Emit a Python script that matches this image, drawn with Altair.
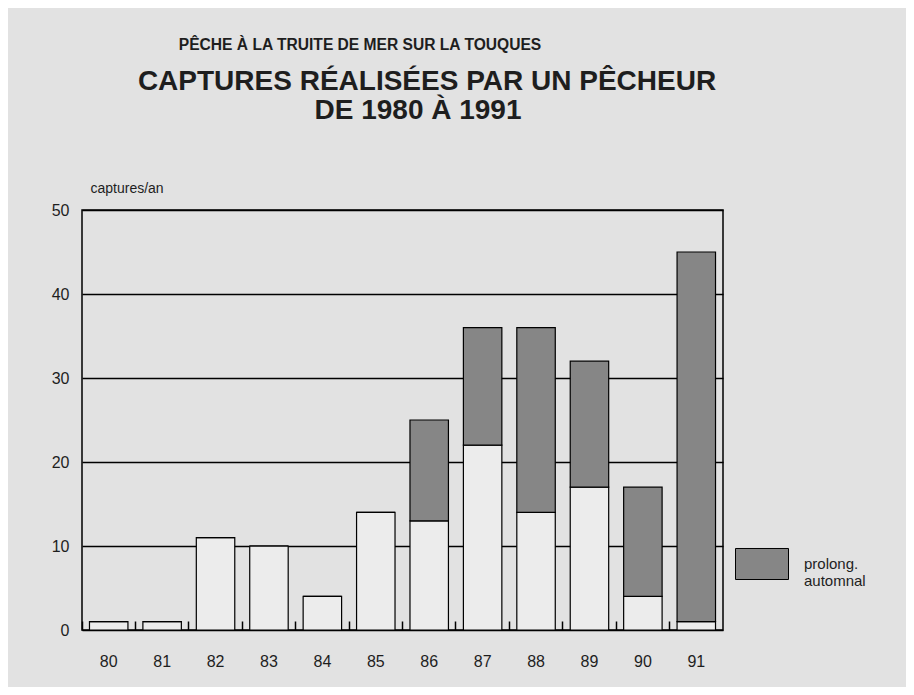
import altair as alt
import pandas as pd

# --- data ---
years = ["80", "81", "82", "83", "84", "85", "86", "87", "88", "89", "90", "91"]
saison = [1, 1, 11, 10, 4, 14, 13, 22, 14, 17, 4, 1]          # light part
prolong = [0, 0, 0, 0, 0, 0, 12, 14, 22, 15, 13, 44]           # dark part (prolong. automnal)
series_names = ["saison", "prolong. automnal"]
y_ticks = [0, 10, 20, 30, 40, 50]
title_lines = [
    "PÊCHE À LA TRUITE DE MER SUR LA TOUQUES",
    "CAPTURES RÉALISÉES PAR UN PÊCHEUR",
    "DE 1980 À 1991",
]

rows = []
for yr, a, b in zip(years, saison, prolong):
    rows.append({"annee": yr, "serie": series_names[0], "captures": a, "ordre": 0})
    rows.append({"annee": yr, "serie": series_names[1], "captures": b, "ordre": 1})
df = pd.DataFrame(rows)

FONT = "Liberation Sans"
INK = "#1e1e1e"
PAD_INNER = 0.28
xscale = alt.Scale(paddingInner=PAD_INNER, paddingOuter=PAD_INNER / 2)

bars = alt.Chart(df).mark_bar(stroke="black", strokeWidth=1.2).encode(
    x=alt.X(
        "annee:N",
        sort=years,
        title=None,
        scale=xscale,
        axis=alt.Axis(
            orient="bottom", labelAngle=0, ticks=False, domain=False, grid=False,
            labelPadding=23, labelFontSize=16, labelColor=INK,
        ),
    ),
    y=alt.Y(
        "captures:Q",
        stack="zero",
        scale=alt.Scale(domain=[0, 50]),
        axis=alt.Axis(
            values=y_ticks, title="captures/an", titleAngle=0, titleX=8, titleY=-18,
            titleAlign="left", titleBaseline="alphabetic", titleFontSize=14,
            titleFontWeight="normal", titleColor=INK,
            ticks=False, domain=False, grid=True, gridColor="black", gridWidth=1.5,
            gridOpacity=1, labelPadding=13, labelFontSize=16, labelColor=INK,
        ),
    ),
    color=alt.Color(
        "serie:N",
        scale=alt.Scale(domain=series_names, range=["#ececec", "#868686"]),
        legend=alt.Legend(
            values=[series_names[1]], orient="none", legendX=653, legendY=327,
            title=None, symbolType="M-1,-0.585H1V0.585H-1Z", symbolSize=2809,
            symbolStrokeColor="black", symbolStrokeWidth=1, symbolOpacity=1,
            labelExpr="split(datum.label, ' ')", labelFontSize=15, labelColor=INK,
            labelOffset=15, labelLimit=200,
        ),
    ),
    order=alt.Order("ordre:Q"),
)

# small inward ticks between the bars (second axis on the same x scale)
ticks = alt.Chart(df).mark_point(opacity=0).encode(
    x=alt.X(
        "annee:N",
        sort=years,
        title=None,
        scale=xscale,
        axis=alt.Axis(
            orient="bottom", labels=False, domain=False, grid=False, ticks=True,
            bandPosition=-(PAD_INNER / 2) / (1 - PAD_INNER),
            offset=-9, tickSize=9, tickColor="black", tickWidth=1.5, zindex=1,
        ),
    ),
)

t1 = alt.Chart(pd.DataFrame({"t": [title_lines[0]]})).mark_text(
    font=FONT, fontSize=15.6, fontWeight="bold", color=INK, align="center", baseline="alphabetic"
).encode(text="t:N", x=alt.value(278), y=alt.value(-160))
t2 = alt.Chart(pd.DataFrame({"t": [title_lines[1]]})).mark_text(
    font=FONT, fontSize=28, fontWeight="bold", color=INK, align="center", baseline="alphabetic"
).encode(text="t:N", x=alt.value(345), y=alt.value(-120))
t3 = alt.Chart(pd.DataFrame({"t": [title_lines[2]]})).mark_text(
    font=FONT, fontSize=28, fontWeight="bold", color=INK, align="center", baseline="alphabetic"
).encode(text="t:N", x=alt.value(336), y=alt.value(-91))

chart = alt.layer(bars, ticks, t1, t2, t3).resolve_axis(x="independent").properties(
    width=641,
    height=420,
    autosize=alt.AutoSizeParams(type="none"),
    padding={"left": 74, "top": 202, "right": 183, "bottom": 57},
).configure(
    font=FONT, background="#e2e2e2"
).configure_view(stroke="black", strokeWidth=1.5)

chart.save("out.html", embed_options={"renderer": "svg", "actions": False})
